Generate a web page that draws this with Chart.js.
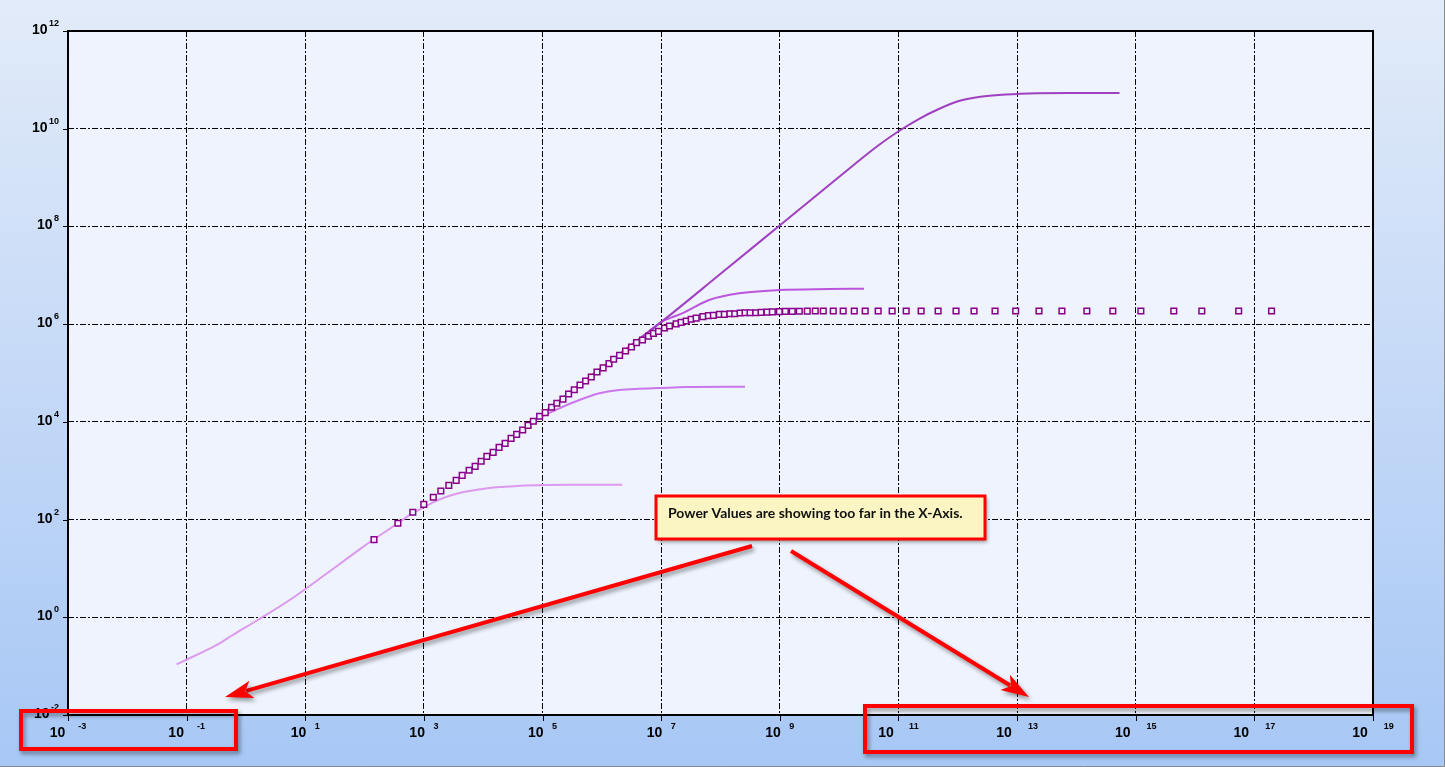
<!DOCTYPE html>
<html>
<head>
<meta charset="utf-8">
<script src="https://cdn.jsdelivr.net/npm/chart.js@4.4.0/dist/chart.umd.min.js"></script>
<style>
  html, body { margin: 0; padding: 0; background: #fff; }
  #chart { display: block; }
</style>
</head>
<body>
<canvas id="chart" width="1445" height="767"></canvas>
<script>
// tick labels: powers of ten, every two decades
const xTickExps = [-3, -1, 1, 3, 5, 7, 9, 11, 13, 15, 17, 19];
const yTickExps = [-2, 0, 2, 4, 6, 8, 10, 12];

// curve with the lowest plateau (~5e2)
const curveAX = [0.0676, 0.105, 0.167, 0.322, 0.600, 1.58, 5.46, 21.2, 82.4, 142, 360, 643, 984, 1396, 2223, 3972, 9705, 18750, 36220, 107200, 417000, 2.2e6];
const curveAY = [0.109, 0.140, 0.183, 0.271, 0.434, 0.879, 2.26, 7.33, 24.6, 39.1, 83.0, 136, 177, 223, 283, 350, 422, 464, 486, 509, 514, 516];

// plateau ~5e4
const curveBX = [14690, 29510, 57020, 88300, 191900, 417000, 903700, 1.96e6, 4.26e6, 9.25e6, 2.64e7, 2.59e8];
const curveBY = [2378, 4603, 8497, 12160, 18920, 27990, 38370, 44870, 47680, 49290, 51640, 52400];

// plateau ~5e6
const curveCX = [88300, 282500, 903700, 2.89e6, 6.28e6, 1e7, 1.47e7, 2.26e7, 6.43e7, 2.06e8, 9.70e8, 6.73e9, 2.62e10];
const curveCY = [13180, 39050, 116100, 345100, 712900, 1.10e6, 1.36e6, 1.66e6, 3.12e6, 4.28e6, 4.99e6, 5.23e6, 5.31e6];

// plateau ~5e10
const curveDX = [282500, 903700, 2.89e6, 6.28e6, 1e7, 9.46e7, 9.70e8, 9.93e9, 4.68e10, 1.02e11, 2.20e11, 4.79e11, 1.04e12, 2.26e12, 4.90e12, 1.57e13, 7.39e13, 5.33e14];
const curveDY = [39050, 116100, 345100, 712900, 1.10e6, 1.01e7, 1.02e8, 1.03e9, 4.63e9, 8.98e9, 1.58e10, 2.53e10, 3.68e10, 4.45e10, 4.89e10, 5.25e10, 5.37e10, 5.37e10];

// measured points (square markers)
const markerX = [144, 364, 650, 995, 1440, 1930, 2630, 3500, 4420, 5790, 7310, 9230,
  1.15e4, 1.47e4, 1.85e4, 2.34e4, 2.95e4, 3.66e4, 4.62e4, 5.70e4, 7.00e4, 8.93e4,
  1.11e5, 1.42e5, 1.74e5, 2.21e5, 2.75e5, 3.43e5, 4.28e5, 5.32e5, 6.63e5, 8.28e5,
  1.05e6, 1.32e6, 1.58e6, 1.99e6, 2.51e6, 3.16e6, 3.84e6, 4.84e6, 6.11e6, 7.41e6, 9.02e6,
  1.14e7, 1.38e7, 1.79e7, 2.17e7, 2.64e7, 3.20e7, 3.89e7, 5.04e7, 6.25e7, 7.59e7, 9.57e7,
  1.16e8, 1.44e8, 1.74e8, 2.14e8, 2.59e8, 3.15e8, 3.93e8, 4.83e8, 6.09e8, 7.48e8, 9.82e8,
  1.24e9, 1.62e9, 2.13e9, 2.90e9, 3.96e9, 5.40e9, 7.96e9,
  1.17e10, 1.80e10, 2.75e10, 4.55e10, 7.83e10, 1.35e11, 2.41e11, 4.66e11, 9.35e11,
  1.88e12, 4.25e12, 9.47e12, 2.34e13, 5.70e13, 1.50e14, 4.11e14, 1.22e15, 4.38e15,
  1.30e16, 5.44e16, 1.95e17];
const markerY = [39, 84, 141, 205, 286, 384, 502, 636, 805, 1020, 1230, 1560,
  1970, 2380, 3010, 3640, 4600, 5560, 6810, 8500, 1.03e4, 1.30e4,
  1.54e4, 1.99e4, 2.40e4, 2.93e4, 3.71e4, 4.55e4, 5.68e4, 6.86e4, 8.28e4, 1.05e5,
  1.27e5, 1.55e5, 1.91e5, 2.30e5, 2.82e5, 3.40e5, 4.17e5, 4.73e5, 5.64e5, 6.49e5, 7.13e5,
  8.34e5, 9.16e5, 1.01e6, 1.09e6, 1.16e6, 1.26e6, 1.33e6, 1.42e6, 1.49e6, 1.51e6, 1.59e6,
  1.59e6, 1.63e6, 1.63e6, 1.69e6, 1.71e6, 1.71e6, 1.71e6, 1.74e6, 1.76e6, 1.78e6, 1.80e6,
  1.82e6, 1.83e6, 1.84e6, 1.85e6, 1.86e6, 1.86e6, 1.86e6,
  1.86e6, 1.86e6, 1.86e6, 1.86e6, 1.86e6, 1.86e6, 1.86e6, 1.86e6, 1.86e6,
  1.86e6, 1.86e6, 1.86e6, 1.86e6, 1.86e6, 1.86e6, 1.86e6, 1.86e6, 1.86e6,
  1.86e6, 1.86e6, 1.86e6];

const toPoints = (xs, ys) => xs.map((x, i) => ({ x: x, y: ys[i] }));

const lineSet = (xs, ys, color) => ({
  data: toPoints(xs, ys),
  showLine: true,
  borderColor: color,
  borderWidth: 2,
  pointRadius: 0,
  cubicInterpolationMode: 'monotone'
});

const GRID_DASH = [6, 2, 2, 2];

const backgroundPlugin = {
  id: 'background',
  beforeDraw(chart) {
    const { ctx, width, height, chartArea: a } = chart;
    const g = ctx.createLinearGradient(0, 0, 0, height);
    g.addColorStop(0, '#e2ebf9');
    g.addColorStop(1, '#a7c7f5');
    ctx.save();
    ctx.fillStyle = g;
    ctx.fillRect(0, 0, width, height);
    ctx.fillStyle = '#eef3fd';
    ctx.fillRect(a.left, a.top, a.right - a.left, a.bottom - a.top);
    ctx.restore();
  }
};

function drawArrow(ctx, x1, y1, x2, y2) {
  const ang = Math.atan2(y2 - y1, x2 - x1);
  const c = Math.cos(ang), s = Math.sin(ang);
  const len = 28, half = 9;
  const bx = x2 - c * len, by = y2 - s * len;
  ctx.beginPath();
  ctx.moveTo(x1, y1);
  ctx.lineTo(bx + c * 6, by + s * 6);
  ctx.lineWidth = 4;
  ctx.stroke();
  ctx.beginPath();
  ctx.moveTo(x2, y2);
  ctx.lineTo(bx - s * half, by + c * half);
  ctx.lineTo(bx + c * 7, by + s * 7);
  ctx.lineTo(bx + s * half, by - c * half);
  ctx.closePath();
  ctx.fill();
}

const overlayPlugin = {
  id: 'overlay',
  afterDraw(chart) {
    const { ctx, chartArea: a, scales } = chart;
    const xs = scales.x, ys = scales.y;
    ctx.save();

    // plot frame
    ctx.strokeStyle = '#000';
    ctx.lineWidth = 2;
    ctx.strokeRect(a.left, a.top, a.right - a.left, a.bottom - a.top);

    // tick marks
    ctx.lineWidth = 1;
    xTickExps.forEach(e => {
      const px = Math.round(xs.getPixelForValue(Math.pow(10, e))) + 0.5;
      ctx.beginPath(); ctx.moveTo(px, a.bottom); ctx.lineTo(px, a.bottom + 6); ctx.stroke();
    });
    yTickExps.forEach(e => {
      const py = Math.round(ys.getPixelForValue(Math.pow(10, e))) + 0.5;
      ctx.beginPath(); ctx.moveTo(a.left - 5, py); ctx.lineTo(a.left, py); ctx.stroke();
    });

    // tick labels: 10 with a raised exponent
    ctx.fillStyle = '#000';
    ctx.textBaseline = 'alphabetic';
    const bigFont = 'bold 14px "Liberation Sans", Arial, sans-serif';
    const smallFont = 'bold 9px "Liberation Sans", Arial, sans-serif';
    xTickExps.forEach(e => {
      const px = xs.getPixelForValue(Math.pow(10, e));
      const ex = String(e);
      ctx.font = bigFont;
      const w1 = ctx.measureText('10').width;
      ctx.font = smallFont;
      const w2 = ctx.measureText(ex).width;
      const gap = 1.5 * w2 + 1;
      const left = px - (w1 + gap + w2) / 2;
      ctx.textAlign = 'left';
      ctx.font = bigFont;
      ctx.fillText('10', left, 737);
      ctx.font = smallFont;
      ctx.fillText(ex, left + w1 + gap, 729);
    });
    yTickExps.forEach(e => {
      const py = ys.getPixelForValue(Math.pow(10, e));
      const ex = String(e);
      ctx.font = smallFont;
      const w2 = ctx.measureText(ex).width;
      ctx.textAlign = 'right';
      ctx.fillText(ex, 59, py - 5);
      ctx.font = bigFont;
      ctx.fillText('10', 59 - w2 - 1.5, py + 3);
    });

    // outer window edge
    ctx.strokeStyle = '#8a8a8a';
    ctx.lineWidth = 1;
    ctx.beginPath();
    ctx.moveTo(1444.5, 0); ctx.lineTo(1444.5, 766.5); ctx.lineTo(0, 766.5);
    ctx.stroke();

    // callout
    ctx.shadowColor = 'rgba(0,0,0,0.4)';
    ctx.shadowBlur = 4;
    ctx.shadowOffsetX = 2;
    ctx.shadowOffsetY = 3;
    ctx.strokeStyle = '#ff0000';
    ctx.fillStyle = '#ff0000';
    ctx.lineWidth = 4;
    ctx.strokeRect(21, 711, 215, 38);
    ctx.strokeRect(865, 706, 547, 46);
    drawArrow(ctx, 752, 546, 225, 697);
    drawArrow(ctx, 791, 551, 1029, 697);

    ctx.fillStyle = '#faf5c2';
    ctx.lineWidth = 3;
    ctx.fillRect(656, 496, 329, 43);
    ctx.shadowColor = 'transparent';
    ctx.strokeRect(656, 496, 329, 43);
    ctx.fillStyle = '#111';
    ctx.font = 'bold 14px Lato, "Open Sans", sans-serif';
    ctx.textAlign = 'left';
    ctx.fillText('Power Values are showing too far in the X-Axis.', 668, 518);

    ctx.restore();
  }
};

new Chart(document.getElementById('chart').getContext('2d'), {
  type: 'scatter',
  data: {
    datasets: [
      {
        data: toPoints(markerX, markerY),
        showLine: false,
        pointStyle: 'rect',
        pointRadius: 4,
        borderWidth: 1.5,
        borderColor: '#880088',
        backgroundColor: '#eef3fd'
      },
      lineSet(curveDX, curveDY, '#a040c0'),
      lineSet(curveCX, curveCY, '#bb55dd'),
      lineSet(curveBX, curveBY, '#cc77ee'),
      lineSet(curveAX, curveAY, '#dd99ee')
    ]
  },
  options: {
    responsive: false,
    animation: false,
    events: [],
    layout: { padding: { top: 31, right: 72, left: 0, bottom: 0 } },
    plugins: {
      legend: { display: false },
      tooltip: { enabled: false }
    },
    scales: {
      x: {
        type: 'logarithmic',
        min: 1e-3,
        max: 1e19,
        afterBuildTicks: s => { s.ticks = xTickExps.map(e => ({ value: Math.pow(10, e) })); },
        afterFit: s => { s.height = 52; },
        ticks: { display: false, autoSkip: false },
        grid: { color: '#000', lineWidth: 1, drawTicks: false, borderDash: GRID_DASH },
        border: { display: false, dash: GRID_DASH }
      },
      y: {
        type: 'logarithmic',
        min: 1e-2,
        max: 1e12,
        afterBuildTicks: s => { s.ticks = yTickExps.map(e => ({ value: Math.pow(10, e) })); },
        afterFit: s => { s.width = 68; },
        ticks: { display: false, autoSkip: false },
        grid: { color: '#000', lineWidth: 1, drawTicks: false, borderDash: GRID_DASH },
        border: { display: false, dash: GRID_DASH }
      }
    }
  },
  plugins: [backgroundPlugin, overlayPlugin]
});
</script>
</body>
</html>
